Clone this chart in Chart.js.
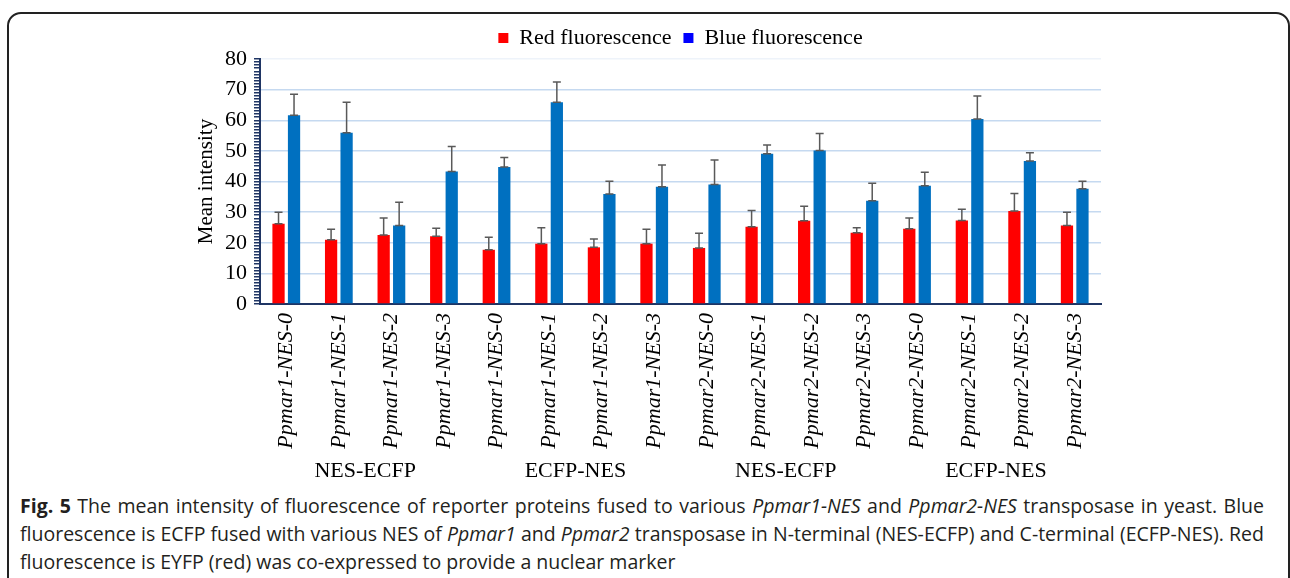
<!DOCTYPE html>
<html>
<head>
<meta charset="utf-8">
<script src="https://cdn.jsdelivr.net/npm/chart.js@4.4.1/dist/chart.umd.min.js"></script>
<style>
  body { margin: 0; background: #fff; width: 1290px; height: 578px; overflow: hidden; position: relative; }
  #frame { position: absolute; left: 7px; top: 12px; width: 1283px; height: 620px; border: 2px solid #222; border-radius: 14px; box-sizing: border-box; }
  #wrap { position: absolute; left: 72px; top: 0; width: 1218px; height: 482px; }
  #caption { position: absolute; left: 20px; top: 492px; width: 1244px; font-family: 'Open Sans', sans-serif; font-size: 19.5px; line-height: 28px; color: #231f20; }
  #caption div { text-align: justify; text-align-last: justify; white-space: nowrap; }
  #caption div.last { text-align-last: left; }
  #caption b { font-weight: 700; }
</style>
</head>
<body>
<div id="frame"></div>
<div id="wrap"><canvas id="myChart"></canvas></div>
<div id="caption">
  <div><b>Fig. 5</b> The mean intensity of fluorescence of reporter proteins fused to various <i>Ppmar1-NES</i> and <i>Ppmar2-NES</i> transposase in yeast. Blue</div>
  <div>fluorescence is ECFP fused with various NES of <i>Ppmar1</i> and <i>Ppmar2</i> transposase in N-terminal (NES-ECFP) and C-terminal (ECFP-NES). Red</div>
  <div class="last">fluorescence is EYFP (red) was co-expressed to provide a nuclear marker</div>
</div>
<script>
// categories along the x axis
const categories = ['Ppmar1-NES-0', 'Ppmar1-NES-1', 'Ppmar1-NES-2', 'Ppmar1-NES-3',
                    'Ppmar1-NES-0', 'Ppmar1-NES-1', 'Ppmar1-NES-2', 'Ppmar1-NES-3',
                    'Ppmar2-NES-0', 'Ppmar2-NES-1', 'Ppmar2-NES-2', 'Ppmar2-NES-3',
                    'Ppmar2-NES-0', 'Ppmar2-NES-1', 'Ppmar2-NES-2', 'Ppmar2-NES-3'];
const groups = ['NES-ECFP', 'ECFP-NES', 'NES-ECFP', 'ECFP-NES'];

// mean intensity + error
const redValues = [26.2, 21.0, 22.5, 22.1, 17.7, 19.7, 18.5, 19.7, 18.3, 25.2, 27.2, 23.3, 24.6, 27.3, 30.4, 25.6];
const redErrors = [3.8, 3.4, 5.6, 2.6, 4.1, 5.2, 2.7, 4.7, 4.8, 5.3, 4.7, 1.6, 3.5, 3.6, 5.7, 4.4];
const blueValues = [61.6, 55.9, 25.6, 43.3, 44.7, 65.9, 35.9, 38.3, 39.0, 49.1, 50.1, 33.7, 38.6, 60.4, 46.7, 37.6];
const blueErrors = [6.9, 10.0, 7.6, 8.1, 3.1, 6.6, 4.2, 7.1, 8.0, 2.8, 5.6, 5.7, 4.4, 7.5, 2.7, 2.5];

const yTicks = [0, 10, 20, 30, 40, 50, 60, 70, 80];

const serif = "'Liberation Serif', 'Times New Roman', serif";
const navy = '#1f3564';

// error bars drawn on top of the bars
const errorBars = {
  id: 'errorBars',
  afterDatasetsDraw(chart) {
    const ctx = chart.ctx;
    const y = chart.scales.y;
    ctx.save();
    ctx.strokeStyle = '#595959';
    ctx.lineWidth = 1.5;
    chart.data.datasets.forEach((ds, d) => {
      const meta = chart.getDatasetMeta(d);
      meta.data.forEach((bar, i) => {
        const top = y.getPixelForValue(ds.data[i] + ds.errors[i]);
        const base = bar.y;
        ctx.beginPath();
        ctx.moveTo(bar.x, base); ctx.lineTo(bar.x, top);
        ctx.moveTo(bar.x - 4, top); ctx.lineTo(bar.x + 4, top);
        ctx.moveTo(bar.x - 4, base); ctx.lineTo(bar.x + 4, base);
        ctx.stroke();
      });
    });
    ctx.restore();
  }
};

// group names under each block of four categories
const groupLabels = {
  id: 'groupLabels',
  afterDraw(chart) {
    const ctx = chart.ctx;
    const x = chart.scales.x;
    ctx.save();
    ctx.font = '22px ' + serif;
    ctx.fillStyle = '#000';
    ctx.textAlign = 'center';
    ctx.textBaseline = 'middle';
    groups.forEach((g, k) => {
      const cx = (x.getPixelForValue(k * 4) + x.getPixelForValue(k * 4 + 3)) / 2;
      ctx.fillText(g, cx, 471);
    });
    ctx.restore();
  }
};

// centre the legend over the plot rather than over the padded canvas
const legendShift = {
  id: 'legendShift',
  afterLayout(chart) {
    if (chart.legend) chart.legend.left = chart.chartArea.left;
  }
};

const ctx = document.getElementById('myChart');

new Chart(ctx, {
  type: 'bar',
  data: {
    labels: categories,
    datasets: [
      {
        label: 'Red fluorescence',
        data: redValues,
        errors: redErrors,
        backgroundColor: '#ff0000',
        legendColor: '#ff0000',
        categoryPercentage: 0.59,
        barPercentage: 0.79
      },
      {
        label: 'Blue fluorescence',
        data: blueValues,
        errors: blueErrors,
        backgroundColor: '#0070c0',
        legendColor: '#0000ff',
        categoryPercentage: 0.59,
        barPercentage: 0.79
      }
    ]
  },
  options: {
    responsive: true,
    maintainAspectRatio: false,
    animation: false,
    layout: {
      padding: { left: 118, right: 189, top: 15, bottom: 0 }
    },
    plugins: {
      tooltip: { enabled: false },
      legend: {
        display: true,
        position: 'top',
        labels: {
          color: '#000',
          font: { family: serif, size: 22 },
          boxWidth: 10,
          boxHeight: 10,
          padding: 12,
          generateLabels(chart) {
            return chart.data.datasets.map((ds, i) => ({
              text: ds.label,
              fillStyle: ds.legendColor,
              strokeStyle: ds.legendColor,
              lineWidth: 0,
              datasetIndex: i
            }));
          }
        }
      }
    },
    scales: {
      x: {
        grid: { display: false, drawTicks: false },
        border: { color: navy, width: 2 },
        ticks: {
          color: '#000',
          font: { family: serif, size: 22, style: 'italic' },
          minRotation: 90,
          maxRotation: 90,
          padding: 9,
          autoSkip: false
        },
        afterFit(scale) { scale.height = 178; }
      },
      y: {
        min: 0,
        max: 80,
        border: { color: navy, width: 2 },
        grid: {
          color: c => {
            const v = c.tick.value;
            if (v % 10 !== 0 || v === 0) return 'rgba(0,0,0,0)';
            return v === 80 ? '#eef3fa' : '#c5d9f0';
          },
          lineWidth: 1.5,
          tickColor: navy,
          tickLength: 6
        },
        ticks: {
          stepSize: 1,
          autoSkip: false,
          color: '#000',
          font: { family: serif, size: 22 },
          padding: 7,
          callback: v => (yTicks.includes(v) ? String(v) : '')
        },
        title: {
          display: true,
          text: 'Mean intensity',
          color: '#000',
          font: { family: serif, size: 21 },
          padding: { top: 4, bottom: 0 }
        },
        afterFit(scale) { scale.width = 70; }
      }
    }
  },
  plugins: [errorBars, groupLabels, legendShift]
});
</script>
</body>
</html>
